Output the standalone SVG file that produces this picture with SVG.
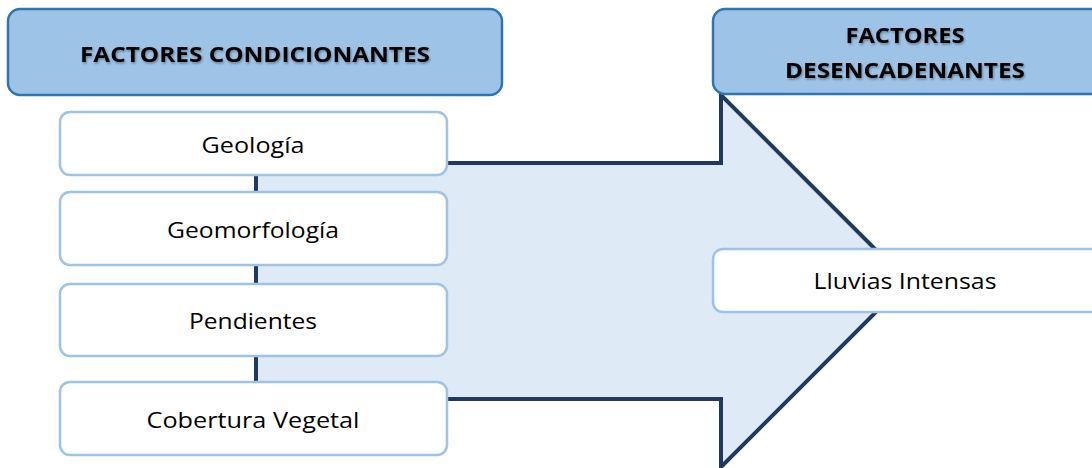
<svg xmlns="http://www.w3.org/2000/svg" width="1092" height="468" viewBox="0 0 1092 468">
<defs>
<filter id="ts" x="-5%" y="-20%" width="110%" height="150%">
<feDropShadow dx="1" dy="1.5" stdDeviation="0.8" flood-color="#000" flood-opacity="0.35"/>
</filter>
</defs>
<style>
.hdr{fill:#9DC3E6;stroke:#2E75B6;stroke-width:2.5}
.box{fill:#FFFFFF;stroke:#9DC3E6;stroke-width:2.5}
.ht{font-family:"Open Sans","Liberation Sans",sans-serif;font-weight:bold;font-size:21px;fill:#000;text-anchor:middle}
.bt{font-family:"Open Sans","Liberation Sans",sans-serif;font-size:21px;fill:#000;text-anchor:middle}
.arrow{fill:#DEEBF7;stroke:#203864;stroke-width:4;stroke-linejoin:miter}
</style>
<g id="connectors">
<polygon class="arrow" points="256,163 721,163 721,95 907,281 721,467 721,399 256,399"/>
</g>
<g id="header-condicionantes">
<rect class="hdr" x="8" y="9" width="494" height="86" rx="12"/>
<text class="ht" x="255" y="62" textLength="350" lengthAdjust="spacingAndGlyphs" filter="url(#ts)">FACTORES CONDICIONANTES</text>
</g>
<g id="header-desencadenantes">
<rect class="hdr" x="713" y="9" width="390" height="85" rx="12"/>
<text class="ht" x="905" y="43" textLength="119" lengthAdjust="spacingAndGlyphs" filter="url(#ts)">FACTORES</text>
<text class="ht" x="905" y="78" textLength="240" lengthAdjust="spacingAndGlyphs" filter="url(#ts)">DESENCADENANTES</text>
</g>
<g id="geologia">
<rect class="box" x="60" y="112" width="387" height="63" rx="10"/>
<text class="bt" x="253" y="153" textLength="103" lengthAdjust="spacingAndGlyphs">Geología</text>
</g>
<g id="geomorfologia">
<rect class="box" x="60" y="192" width="387" height="73" rx="10"/>
<text class="bt" x="253" y="238" textLength="172" lengthAdjust="spacingAndGlyphs">Geomorfología</text>
</g>
<g id="pendientes">
<rect class="box" x="60" y="284" width="387" height="72" rx="10"/>
<text class="bt" x="253" y="329" textLength="128" lengthAdjust="spacingAndGlyphs">Pendientes</text>
</g>
<g id="cobertura">
<rect class="box" x="60" y="382" width="387" height="73" rx="10"/>
<text class="bt" x="253" y="428" textLength="213" lengthAdjust="spacingAndGlyphs">Cobertura Vegetal</text>
</g>
<g id="lluvias">
<rect class="box" x="713" y="249" width="390" height="63" rx="10"/>
<text class="bt" x="905" y="289" textLength="183" lengthAdjust="spacingAndGlyphs">Lluvias Intensas</text>
</g>
</svg>
